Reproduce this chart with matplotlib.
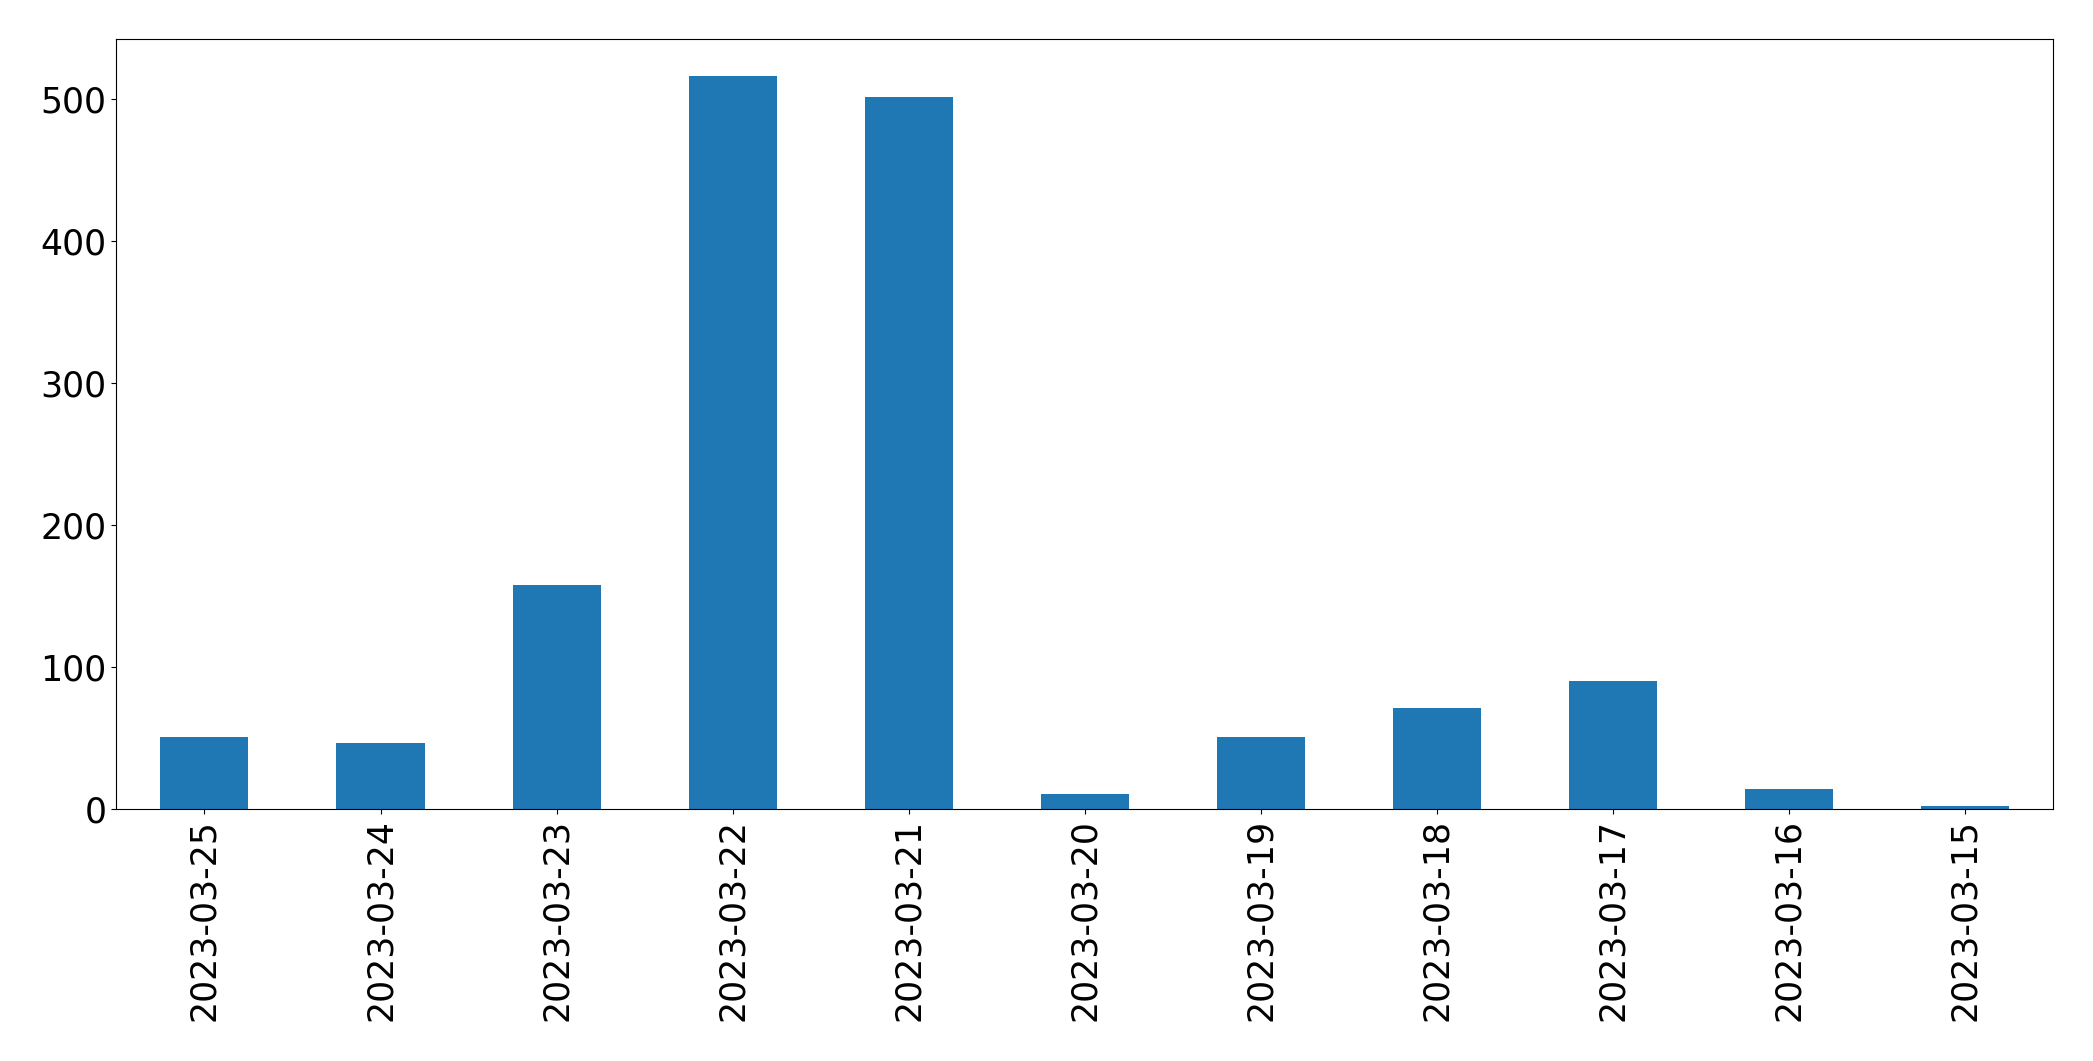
import numpy as np
import matplotlib
matplotlib.use('Agg')
import matplotlib.pyplot as plt

dates = ['2023-03-25', '2023-03-24', '2023-03-23', '2023-03-22', '2023-03-21',
         '2023-03-20', '2023-03-19', '2023-03-18', '2023-03-17', '2023-03-16',
         '2023-03-15']
counts = [51, 47, 158, 516, 501, 11, 51, 71, 90, 14, 2]

ind = np.arange(len(dates))

fig = plt.figure(figsize=(20.93, 10.61), dpi=100)
ax = fig.add_axes([0.0556, 0.2372, 0.9255, 0.7257])
ax.bar(ind, counts, 0.5, color='#1f77b4')

ax.set_xlim(-0.5, len(dates) - 0.5)
ax.set_ylim(0, max(counts) * 1.05)
ax.set_xticks(ind)
ax.set_xticklabels(dates, rotation=90)
ax.tick_params(labelsize=25)

fig.savefig('out.png', dpi=100)
